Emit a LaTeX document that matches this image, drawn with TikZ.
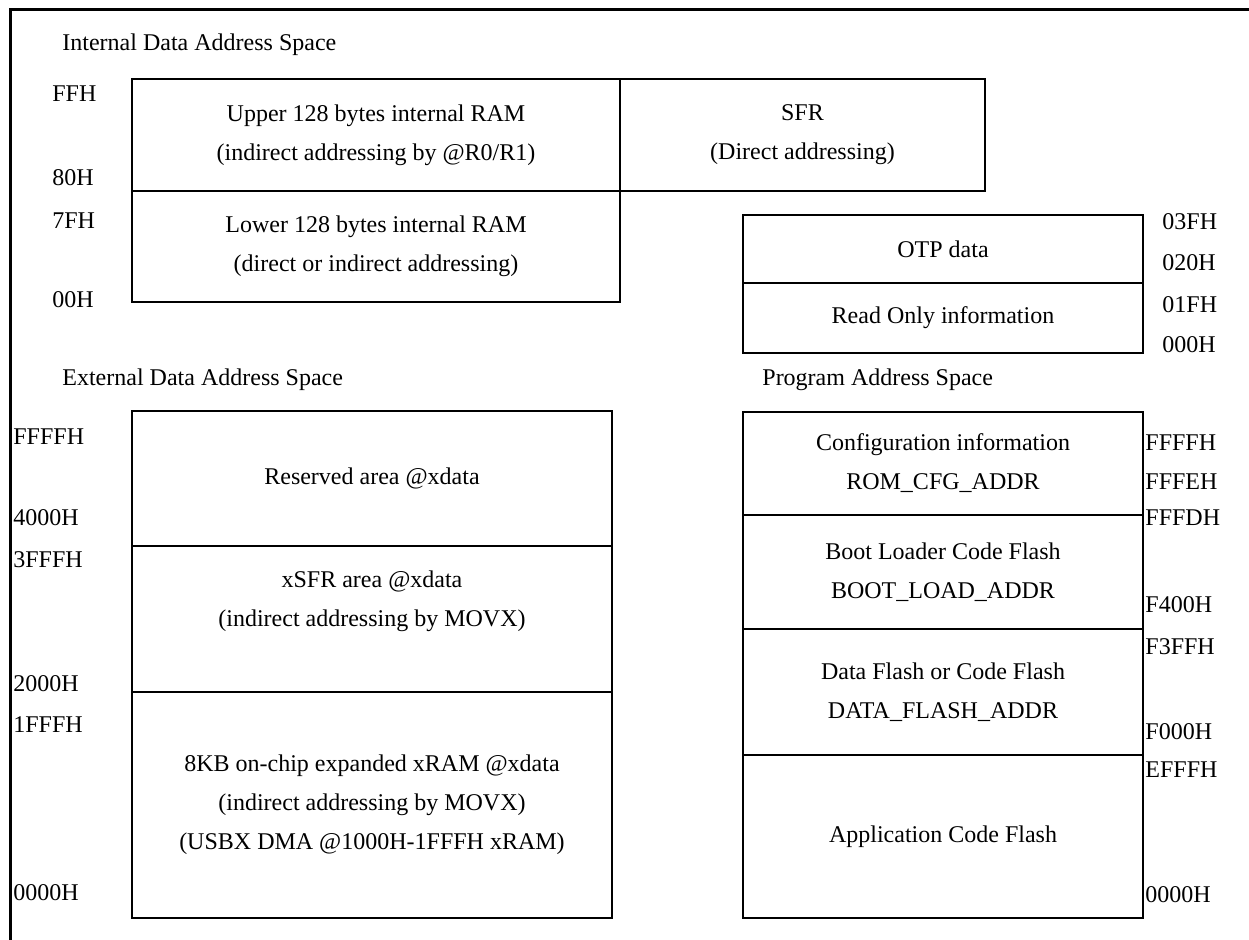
\documentclass[tikz,border=0pt]{standalone}
\usepackage{fontspec}
\setmainfont{Liberation Serif}
\usetikzlibrary{positioning}

\begin{document}
\begin{tikzpicture}[x=0.5pt, y=-0.5pt]
%
% Memory map: internal data, otp, external data, program space
%
% Styles
\tikzstyle{region} = [rectangle, draw=black, line width=1pt, align=center, inner sep=0pt, outer sep=0pt, minimum width=244pt, font=\fontsize{12}{19.5}\selectfont]
\tikzstyle{addr} = [anchor=west, inner sep=0pt, font=\fontsize{12}{14}\selectfont]
\tikzstyle{title} = [anchor=west, inner sep=0pt, font=\fontsize{12}{14}\selectfont]
\useasboundingbox (0,0) rectangle (1249,940);
% Frame
\draw [line width=1.5pt] (10,940) -- (10,10) -- (1249,10);
% Internal data address space
\node (int_title) [title] at (62,45) {Internal Data Address Space};
\node (upper) [region, minimum height=56pt] at (376,135) {Upper 128 bytes internal RAM\\(indirect addressing by @R0/R1)};
\node (lower) [region, minimum height=55.5pt, below=0pt of upper] {Lower 128 bytes internal RAM\\(direct or indirect addressing)};
\node (sfr) [region, minimum width=182.5pt, minimum height=56pt, right=0pt of upper] {SFR\\(Direct addressing)};
\node (a_ff) [addr] at (52,94) {FFH};
\node (a_80) [addr] at (52,178) {80H};
\node (a_7f) [addr] at (52,221) {7FH};
\node (a_00) [addr] at (52,300) {00H};
% OTP area
\node (otp) [region, minimum width=200pt, minimum height=34pt] at (943,249) {OTP data};
\node (ro_info) [region, minimum width=200pt, minimum height=35pt, below=0pt of otp] {Read Only information};
\node (a_03f) [addr] at (1162,222) {03FH};
\node (a_020) [addr] at (1162,263) {020H};
\node (a_01f) [addr] at (1162,305) {01FH};
\node (a_000) [addr] at (1162,345) {000H};
% External data address space
\node (ext_title) [title] at (62,380) {External Data Address Space};
\node (reserved) [region, minimum width=240pt, minimum height=67.5pt] at (372,478.5) {Reserved area @xdata};
\node (xsfr) [region, minimum width=240pt, minimum height=73pt, below=0pt of reserved, text depth=20pt] {xSFR area @xdata\\(indirect addressing by MOVX)};
\node (xram) [region, minimum width=240pt, minimum height=113pt, below=0pt of xsfr] {8KB on-chip expanded xRAM @xdata\\(indirect addressing by MOVX)\\(USBX DMA @1000H-1FFFH xRAM)};
\node (x_ffff) [addr] at (13,437) {FFFFH};
\node (x_4000) [addr] at (13,518) {4000H};
\node (x_3fff) [addr] at (13,560) {3FFFH};
\node (x_2000) [addr] at (13,684) {2000H};
\node (x_1fff) [addr] at (13,725) {1FFFH};
\node (x_0000) [addr] at (13,893) {0000H};
% Program address space
\node (prog_title) [title] at (762,380) {Program Address Space};
\node (config) [region, minimum width=200pt, minimum height=51.5pt] at (943,463.5) {Configuration information\\ROM\_CFG\_ADDR};
\node (boot) [region, minimum width=200pt, minimum height=57pt, below=0pt of config] {Boot Loader Code Flash\\BOOT\_LOAD\_ADDR};
\node (dflash) [region, minimum width=200pt, minimum height=63pt, below=0pt of boot] {Data Flash or Code Flash\\DATA\_FLASH\_ADDR};
\node (app) [region, minimum width=200pt, minimum height=81.5pt, below=0pt of dflash] {Application Code Flash};
\node (p_ffff) [addr] at (1145,443) {FFFFH};
\node (p_fffe) [addr] at (1145,482) {FFFEH};
\node (p_fffd) [addr] at (1145,518) {FFFDH};
\node (p_f400) [addr] at (1145,605) {F400H};
\node (p_f3ff) [addr] at (1145,647) {F3FFH};
\node (p_f000) [addr] at (1145,732) {F000H};
\node (p_efff) [addr] at (1145,770) {EFFFH};
\node (p_0000) [addr] at (1145,895) {0000H};
\end{tikzpicture}
\end{document}
